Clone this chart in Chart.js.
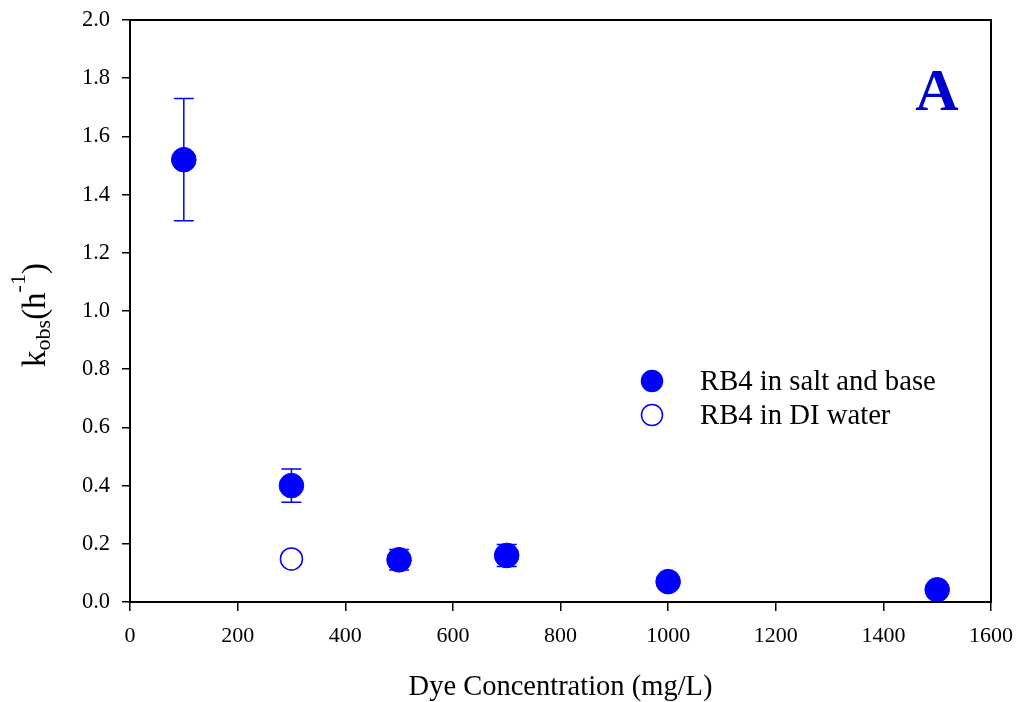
<!DOCTYPE html>
<html>
<head>
<meta charset="utf-8">
<script src="https://cdn.jsdelivr.net/npm/chart.js@4/dist/chart.umd.min.js"></script>
<style>
  html, body { margin: 0; padding: 0; background: #fff; }
  #wrap { width: 1019px; height: 702px; }
</style>
</head>
<body>
<div id="wrap"><canvas id="chart"></canvas></div>
<script>
// salt and base series
const saltConc = [100, 300, 500, 700, 1000, 1500];
const saltK = [1.52, 0.40, 0.145, 0.16, 0.07, 0.042];
const saltErr = [0.21, 0.057, 0.035, 0.038, 0, 0];
// DI water series
const diConc = [300];
const diK = [0.148];

const xTicks = [0, 200, 400, 600, 800, 1000, 1200, 1400, 1600];
const yTicks = [0, 0.2, 0.4, 0.6, 0.8, 1.0, 1.2, 1.4, 1.6, 1.8, 2.0];

const blue = '#0000ff';
const serif = '"Liberation Serif", "DejaVu Serif", serif';

const toPoints = (xs, ys, errs) => xs.map((x, i) => ({ x: x, y: ys[i], err: errs ? errs[i] : 0 }));

const errorBars = {
    id: 'errorBars',
    beforeDatasetsDraw(chart) {
        const ctx = chart.ctx;
        const xs = chart.scales.x, ys = chart.scales.y;
        ctx.save();
        ctx.strokeStyle = blue;
        ctx.lineWidth = 1.5;
        chart.data.datasets.forEach(ds => {
            ds.data.forEach(p => {
                if (!p.err) return;
                const px = xs.getPixelForValue(p.x);
                const top = ys.getPixelForValue(p.y + p.err);
                const bot = ys.getPixelForValue(p.y - p.err);
                ctx.beginPath();
                ctx.moveTo(px, top); ctx.lineTo(px, bot);
                ctx.moveTo(px - 10, top); ctx.lineTo(px + 10, top);
                ctx.moveTo(px - 10, bot); ctx.lineTo(px + 10, bot);
                ctx.stroke();
            });
        });
        ctx.restore();
    }
};

const decorations = {
    id: 'decorations',
    afterDraw(chart) {
        const ctx = chart.ctx;
        const a = chart.chartArea;
        ctx.save();
        // frame
        ctx.strokeStyle = '#000';
        ctx.lineWidth = 2;
        ctx.strokeRect(a.left, a.top, a.right - a.left, a.bottom - a.top);

        // legend
        const lx = a.left + 522, ly = a.top + 361;
        chart.data.datasets.forEach((ds, i) => {
            const y = ly + i * 34;
            ctx.beginPath();
            ctx.arc(lx, y, 10.5, 0, Math.PI * 2);
            ctx.fillStyle = ds.pointBackgroundColor;
            ctx.fill();
            ctx.lineWidth = 1.5;
            ctx.strokeStyle = blue;
            ctx.stroke();
            ctx.fillStyle = '#000';
            ctx.font = '28.7px ' + serif;
            ctx.textAlign = 'left';
            ctx.textBaseline = 'middle';
            ctx.fillText(ds.label, lx + 48, y + 1);
        });

        // panel letter
        ctx.fillStyle = '#0000cc';
        ctx.font = 'bold 60px ' + serif;
        ctx.textAlign = 'center';
        ctx.textBaseline = 'alphabetic';
        ctx.fillText('A', a.left + 807, a.top + 90);

        // y title: k_obs(h^-1)
        ctx.translate(36, 315);
        ctx.rotate(-Math.PI / 2);
        ctx.fillStyle = '#000';
        ctx.textBaseline = 'alphabetic';
        ctx.textAlign = 'left';
        const big = '33px ' + serif, small = '22px ' + serif;
        const parts = [
            { t: 'k', f: big, dy: 0 },
            { t: 'obs', f: small, dy: 5 },
            { t: '(h', f: big, dy: 0 },
            { t: '-1', f: small, dy: -20 },
            { t: ')', f: big, dy: 0 }
        ];
        let w = 0;
        parts.forEach(p => { ctx.font = p.f; w += ctx.measureText(p.t).width; });
        let x = -w / 2;
        parts.forEach(p => {
            ctx.font = p.f;
            ctx.fillText(p.t, x, 9 + p.dy);
            x += ctx.measureText(p.t).width;
        });
        ctx.restore();
    }
};

new Chart(document.getElementById('chart'), {
    type: 'scatter',
    data: {
        datasets: [
            {
                label: 'RB4 in salt and base',
                data: toPoints(saltConc, saltK, saltErr),
                pointRadius: 12.3,
                pointBackgroundColor: blue,
                pointBorderColor: blue,
                pointBorderWidth: 1
            },
            {
                label: 'RB4 in DI water',
                data: toPoints(diConc, diK),
                pointRadius: 11,
                pointBackgroundColor: '#ffffff',
                pointBorderColor: blue,
                pointBorderWidth: 1.5
            }
        ]
    },
    options: {
        responsive: true,
        maintainAspectRatio: false,
        animation: false,
        layout: { padding: { left: 0, right: 28, top: 20, bottom: 0 } },
        plugins: {
            legend: { display: false },
            tooltip: { enabled: false }
        },
        scales: {
            x: {
                type: 'linear',
                min: 0,
                max: 1600,
                afterBuildTicks: s => { s.ticks = xTicks.map(v => ({ value: v })); },
                afterFit: s => { s.height = 100; s.paddingLeft = 0; s.paddingRight = 0; },
                ticks: {
                    color: '#000',
                    font: { family: serif, size: 22 },
                    padding: 12,
                    maxRotation: 0,
                    callback: v => String(v)
                },
                grid: { drawOnChartArea: false, color: '#000', tickLength: 9, lineWidth: 1.5 },
                border: { color: '#000', width: 2 },
                title: {
                    display: true,
                    text: 'Dye Concentration (mg/L)',
                    color: '#000',
                    font: { family: serif, size: 28.5, lineHeight: 1 },
                    padding: { top: 0, bottom: 0 }
                }
            },
            y: {
                type: 'linear',
                min: 0,
                max: 2.0,
                afterBuildTicks: s => { s.ticks = yTicks.map(v => ({ value: v })); },
                afterFit: s => { s.width = 130; s.paddingTop = 0; s.paddingBottom = 0; },
                ticks: {
                    color: '#000',
                    font: { family: serif, size: 22.5 },
                    padding: 12,
                    callback: v => v.toFixed(1)
                },
                grid: { drawOnChartArea: false, color: '#000', tickLength: 8, lineWidth: 1.5 },
                border: { color: '#000', width: 2 }
            }
        }
    },
    plugins: [errorBars, decorations]
});
</script>
</body>
</html>
